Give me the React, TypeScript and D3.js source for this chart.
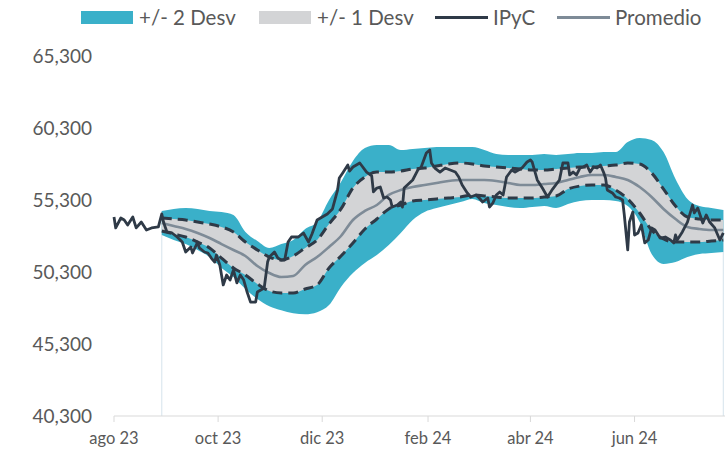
import React from "react";
import * as d3 from "d3";

// IPyC daily-ish closes
const ipycDates = [
  "2023-08-01","2023-08-02","2023-08-05","2023-08-07","2023-08-09","2023-08-12","2023-08-14","2023-08-17","2023-08-20","2023-08-23",
  "2023-08-27","2023-08-29","2023-08-30","2023-09-01","2023-09-04","2023-09-07","2023-09-10","2023-09-12","2023-09-15","2023-09-16",
  "2023-09-19","2023-09-20","2023-09-23","2023-09-25","2023-09-27","2023-09-29","2023-09-30","2023-10-02","2023-10-04","2023-10-06",
  "2023-10-08","2023-10-10","2023-10-12","2023-10-14","2023-10-16","2023-10-18","2023-10-20","2023-10-23","2023-10-24","2023-10-27",
  "2023-10-28","2023-10-30","2023-10-31","2023-11-03","2023-11-05","2023-11-07","2023-11-09","2023-11-11","2023-11-13","2023-11-17",
  "2023-11-20","2023-11-23","2023-11-25","2023-11-28","2023-12-01","2023-12-04","2023-12-07","2023-12-10","2023-12-11","2023-12-13",
  "2023-12-16","2023-12-17","2023-12-19","2023-12-23","2023-12-27","2023-12-30","2023-12-31","2024-01-02","2024-01-04","2024-01-06",
  "2024-01-08","2024-01-10","2024-01-11","2024-01-14","2024-01-16","2024-01-17","2024-01-18","2024-01-23","2024-01-26","2024-01-28",
  "2024-01-31","2024-02-02","2024-02-03","2024-02-05","2024-02-08","2024-02-11","2024-02-14","2024-02-17","2024-02-19","2024-02-21",
  "2024-02-24","2024-02-26","2024-02-29","2024-03-02","2024-03-04","2024-03-07","2024-03-08","2024-03-10","2024-03-12","2024-03-14",
  "2024-03-16","2024-03-18","2024-03-21","2024-03-23","2024-03-27","2024-03-30","2024-04-01","2024-04-02","2024-04-05","2024-04-08",
  "2024-04-11","2024-04-14","2024-04-18","2024-04-20","2024-04-23","2024-04-24","2024-04-26","2024-04-28","2024-04-30","2024-05-02",
  "2024-05-04","2024-05-06","2024-05-08","2024-05-10","2024-05-12","2024-05-14","2024-05-15","2024-05-16","2024-05-19","2024-05-21",
  "2024-05-23","2024-05-25","2024-05-26","2024-05-28","2024-05-29","2024-05-31","2024-06-01","2024-06-03","2024-06-05","2024-06-07",
  "2024-06-09","2024-06-11","2024-06-13","2024-06-16","2024-06-19","2024-06-22","2024-06-24","2024-06-25","2024-06-26","2024-06-29",
  "2024-07-02","2024-07-05","2024-07-06","2024-07-08","2024-07-11","2024-07-13","2024-07-15","2024-07-18","2024-07-21","2024-07-23",
];
const ipycValues = [
  54120,53360,54050,53910,53560,54120,53360,53770,53220,53360,
  53430,54330,53770,53080,53010,52730,52380,51690,52040,51620,
  52380,51970,51690,51620,51270,50990,51480,50790,49400,50090,
  49740,50440,49540,50090,49740,48910,48210,48210,48910,49120,
  49190,50990,51340,51690,51270,51130,51130,52380,52730,52730,
  53010,52380,52940,53910,54120,54330,54680,55990,56830,57180,
  57730,57310,57590,57870,57240,56970,55860,56130,56200,55440,
  55510,55300,54810,54950,55160,54810,56130,56690,57380,57590,
  58560,58770,57870,57520,57240,57520,57380,57240,56900,56340,
  55790,55510,55650,55440,55160,55440,54810,55090,55650,55860,
  55650,56900,57380,57240,57520,57940,58080,57940,56690,56130,
  55510,56060,56690,57870,57870,57040,57240,57040,57520,57590,
  57730,57240,57590,57520,57730,57180,56830,56000,55790,55510,
  55440,55300,54260,51830,53770,54470,52870,53010,53570,52320,
  52520,53360,53220,52660,52730,52520,52320,52870,52520,53080,
  53770,54950,54400,54740,53700,54260,53770,53360,52520,53010,
];

// weekly band statistics
const bandDates = [
  "2023-08-29","2023-09-05","2023-09-12","2023-09-19","2023-09-26","2023-10-03","2023-10-10","2023-10-17","2023-10-24","2023-10-31",
  "2023-11-07","2023-11-14","2023-11-21","2023-11-28","2023-12-05","2023-12-12","2023-12-19","2023-12-26","2024-01-02","2024-01-09",
  "2024-01-16","2024-01-23","2024-01-30","2024-02-06","2024-02-13","2024-02-20","2024-02-27","2024-03-05","2024-03-12","2024-03-19",
  "2024-03-26","2024-04-02","2024-04-09","2024-04-16","2024-04-23","2024-04-30","2024-05-07","2024-05-14","2024-05-21","2024-05-28",
  "2024-06-04","2024-06-11","2024-06-18","2024-06-25","2024-07-02","2024-07-09","2024-07-16","2024-07-23",
];
const promedio = [
  53700,53490,53290,53010,52660,52240,51830,51410,50720,50230,49950,50020,50790,51340,52040,52800,
  53910,54540,54950,55650,55990,56200,56340,56480,56620,56690,56690,56690,56620,56480,56340,56340,
  56410,56480,56690,56900,57040,57040,56900,56690,56200,55510,54680,53980,53430,53290,53220,53220,
];
const plus1 = [
  54050,53980,53910,53770,53630,53430,53080,52380,51830,51340,51130,51410,51970,52520,53630,54680,
  56130,56900,57240,57240,57310,57450,57520,57660,57800,57870,57800,57660,57590,57520,57450,57380,
  57380,57450,57520,57590,57590,57660,57730,57870,57800,57180,56060,54880,54120,53980,53910,53910,
];
const minus1 = [
  53150,52940,52730,52380,51970,51270,50580,50090,49470,48980,48840,48840,49120,49400,50580,51410,
  52310,53290,53980,54680,54950,55230,55300,55370,55440,55510,55650,55580,55510,55440,55440,55440,
  55510,55580,56060,56270,56340,56340,55990,55370,54400,53220,52590,52380,52380,52380,52450,52520,
];
const plus2 = [
  54540,54680,54740,54680,54540,54470,54260,53080,52450,51970,52240,52520,53290,53770,55300,56550,
  58010,58910,59120,59120,58770,58840,58910,58980,58980,58980,58980,58770,58490,58430,58430,58430,
  58490,58430,58490,58560,58560,58630,58630,59330,59610,59470,58630,56760,55370,54880,54740,54610,
];
const minus2 = [
  52870,52520,52240,51830,51340,50580,49950,49120,48430,47930,47650,47440,47370,47510,48000,49260,
  50230,50930,51480,52170,53010,53910,54470,54740,54950,55160,55370,55090,54950,54810,54740,54810,
  54880,54740,55020,55230,55300,55300,55230,54880,53770,51550,50860,50990,51340,51550,51620,51690,
];

const xTickDates = ["2023-08-01", "2023-10-01", "2023-12-01", "2024-02-01", "2024-04-01", "2024-06-01"];
const xTickLabels = ["ago 23", "oct 23", "dic 23", "feb 24", "abr 24", "jun 24"];
const yTicks = [40300, 45300, 50300, 55300, 60300, 65300];

const TEAL = "#3AB0C9";
const GREY_BAND = "#D3D4D6";
const DARK = "#2F3A47";
const AVG = "#7E8B97";
const TXT = "#595959";
const FONT = 'Lato, "Open Sans", sans-serif';

const parse = d3.timeParse("%Y-%m-%d");

export default function App() {
  const width = 725;
  const height = 450;

  const x = d3.scaleTime()
    .domain([parse("2023-08-01"), parse("2024-07-24")])
    .range([114, 725]);
  const y = d3.scaleLinear().domain([40300, 65300]).range([416, 56]);

  const ipyc = ipycDates.map((d, i) => ({ date: parse(d), value: ipycValues[i] }));
  const bands = bandDates.map((d, i) => ({
    date: parse(d),
    m: promedio[i], u1: plus1[i], l1: minus1[i], u2: plus2[i], l2: minus2[i],
  }));

  const curve = d3.curveMonotoneX;
  const area2 = d3.area().x((d) => x(d.date)).y0((d) => y(d.l2)).y1((d) => y(d.u2)).curve(curve);
  const area1 = d3.area().x((d) => x(d.date)).y0((d) => y(d.l1)).y1((d) => y(d.u1)).curve(curve);
  const bandLine = (key) => d3.line().x((d) => x(d.date)).y((d) => y(d[key])).curve(curve)(bands);
  const ipycLine = d3.line().x((d) => x(d.date)).y((d) => y(d.value))(ipyc);

  const first = bands[0];
  const last = bands[bands.length - 1];

  // legend entries
  const legend = [
    { label: "+/- 2 Desv", kind: "rect", color: TEAL, x: 81 },
    { label: "+/- 1 Desv", kind: "rect", color: GREY_BAND, x: 259 },
    { label: "IPyC", kind: "line", color: DARK, x: 435 },
    { label: "Promedio", kind: "line", color: AVG, x: 557 },
  ];

  return (
    <svg width={width} height={height} style={{ position: "absolute", left: 0, top: 0, background: "#fff" }}
      fontFamily={FONT}>
      {/* marker lines at start and end of the band window */}
      <line x1={x(first.date)} x2={x(first.date)} y1={y(first.u2)} y2={y(40300)} stroke="#D5E3EC" strokeWidth={1} />
      <line x1={x(last.date)} x2={x(last.date)} y1={y(last.u2)} y2={y(40300)} stroke="#D5E3EC" strokeWidth={1} />

      <path d={area2(bands)} fill={TEAL} />
      <path d={area1(bands)} fill={GREY_BAND} />
      <path d={bandLine("m")} fill="none" stroke={AVG} strokeWidth={2.6} />
      <path d={bandLine("u1")} fill="none" stroke={DARK} strokeWidth={3} strokeDasharray="10,6" />
      <path d={bandLine("l1")} fill="none" stroke={DARK} strokeWidth={3} strokeDasharray="10,6" />
      <path d={ipycLine} fill="none" stroke={DARK} strokeWidth={2.8} strokeLinejoin="round" />

      {/* x axis */}
      <line x1={114} x2={725} y1={y(40300)} y2={y(40300)} stroke="#D9D9D9" strokeWidth={1} />
      {xTickDates.map((d, i) => {
        const tx = x(parse(d));
        return (
          <g key={d}>
            <line x1={tx} x2={tx} y1={y(40300)} y2={y(40300) + 6} stroke="#D9D9D9" />
            <text x={tx} y={444} textAnchor="middle" fontSize={16.5} fill={TXT}>{xTickLabels[i]}</text>
          </g>
        );
      })}

      {/* y labels */}
      {yTicks.map((v) => (
        <text key={v} x={92} y={y(v) + 7} textAnchor="end" fontSize={19} fill={TXT}>
          {d3.format(",")(v)}
        </text>
      ))}

      {/* legend */}
      {legend.map((l) => (
        <g key={l.label}>
          {l.kind === "rect" ? (
            <rect x={l.x} y={11} width={52} height={13} fill={l.color} />
          ) : (
            <line x1={l.x} x2={l.x + 53} y1={17.5} y2={17.5} stroke={l.color} strokeWidth={3} />
          )}
          <text x={l.x + 58} y={24.5} fontSize={20.5} fill={TXT}>{l.label}</text>
        </g>
      ))}
    </svg>
  );
}
